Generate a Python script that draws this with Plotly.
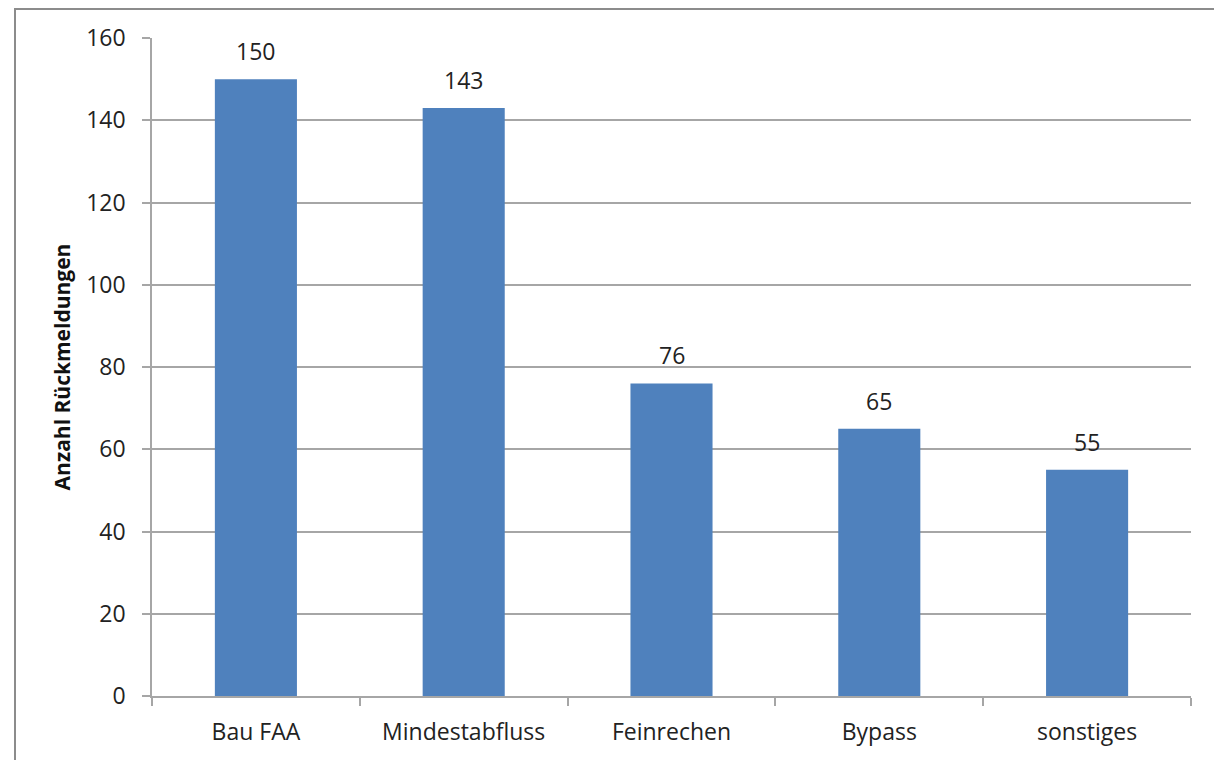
import plotly.graph_objects as go

categories = ["Bau FAA", "Mindestabfluss", "Feinrechen", "Bypass", "sonstiges"]
values = [150, 143, 76, 65, 55]
y_ticks = [0, 20, 40, 60, 80, 100, 120, 140, 160]

grid = "#a6a6a6"
fnt = "Open Sans, Liberation Sans, sans-serif"
fs = 23

fig = go.Figure(go.Bar(
    x=categories, y=values, width=0.395,
    marker=dict(color="#4f81bd", line=dict(width=0)),
    hoverinfo="x+y",
))

for c, v in zip(categories, values):
    fig.add_annotation(x=c, y=v, text=str(v), showarrow=False,
                       yanchor="bottom", yshift=10,
                       font=dict(size=fs, color="#222222", family=fnt))

L, R, T, B = 144, 39, 30, 72
pw, ph = 1222 - L - R, 760 - T - B

def px(x):
    return (x - 8 - L) / pw

def py(y):
    return (760 - B - (y - 8)) / ph

fig.update_layout(
    width=1222, height=760,
    margin=dict(l=L, r=R, t=T, b=B),
    paper_bgcolor="white", plot_bgcolor="white",
    showlegend=False,
    font=dict(family=fnt, size=fs, color="#222222"),
    shapes=[dict(type="rect", xref="paper", yref="paper",
                 x0=px(15), x1=px(1225), y0=py(800), y1=py(9),
                 line=dict(color="#8c8c8c", width=2), fillcolor="rgba(0,0,0,0)", layer="below")],
)
fig.update_xaxes(
    range=[-0.5, 4.5], showgrid=False, showline=True, linecolor=grid, linewidth=1.5,
    ticks="outside", tickson="boundaries", ticklen=8, tickcolor=grid, tickwidth=1.5,
    tickfont=dict(size=fs, family=fnt, color="#222222"), ticklabelstandoff=15,
)
fig.update_yaxes(
    range=[0, 160], tickvals=y_ticks, showgrid=True, gridcolor=grid, gridwidth=1.5,
    showline=True, linecolor=grid, linewidth=1.5, zeroline=False,
    ticks="outside", ticklen=8, tickcolor=grid, tickwidth=1.5,
    tickfont=dict(size=fs, family=fnt, color="#222222"), ticklabelstandoff=12,
    title=dict(text="<b>Anzahl Rückmeldungen</b>", font=dict(size=21, family=fnt, color="#111111"), standoff=10),
)

fig.write_html("out.html")
